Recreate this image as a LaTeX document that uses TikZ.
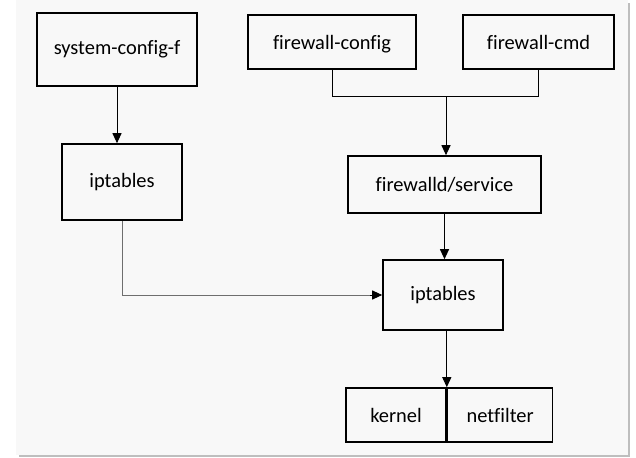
\documentclass[tikz,border=0pt]{standalone}
\usepackage{fontspec}
\setmainfont{Carlito}[Ligatures=NoCommon]
\usepackage{tikz}
\usetikzlibrary{arrows.meta, positioning, calc}
\definecolor{panelgray}{RGB}{248, 248, 248}
\definecolor{shadowgray}{RGB}{190, 190, 190}
\definecolor{linkgray}{RGB}{110, 110, 110}

\begin{document}
\begin{tikzpicture}[
    x=1bp, y=1bp,
    every node/.style={font=\fontsize{20.5}{24}\selectfont},
    box/.style={rectangle, draw, line width=1.6bp, align=center, inner sep=0pt},
    lowtext/.style={text depth=-8bp},
    arrow/.style={-{Triangle[length=10bp, width=9bp]}, line width=1bp},
    link/.style={line width=1bp, draw=linkgray}
]
\useasboundingbox (0,0) rectangle (636,-458);

% Background panel
\fill[white] (0,0) rectangle (636,-458);
\fill[shadowgray] (19,-452) rectangle (630,-457);
\fill[shadowgray] (625,-3) rectangle (630,-457);
\fill[panelgray] (16,0) rectangle (628,-455);

% Old tool chain
\node[box, minimum width=160bp, minimum height=73bp] (sysconf) at (117,-49.5) {system-config-f};
\node[box, minimum width=120bp, minimum height=76bp] (iptold) at (122,-182) {iptables};

% firewalld tool chain
\node[box, lowtext, minimum width=168bp, minimum height=54bp] (fwconfig) at (332,-42) {firewall-config};
\node[box, lowtext, minimum width=151bp, minimum height=54bp] (fwcmd) at (538.5,-42) {firewall-cmd};
\node[box, lowtext, minimum width=193bp, minimum height=57bp] (fwservice) at (444.5,-184.5) {firewalld/service};
\node[box, minimum width=120bp, minimum height=70bp] (iptnew) at (443,-295) {iptables};

% Kernel part
\node[box, minimum width=100bp, minimum height=54bp, text depth=-12bp] (kernel) at (396,-415) {kernel};
\node[box, minimum width=105bp, minimum height=54bp, text depth=-12bp, right=0pt of kernel] (netfilter) {netfilter};

\coordinate (join) at (446,-97);

% Arrows
\draw[arrow] (sysconf.south) -- (sysconf.south |- iptold.north);
\draw[line width=1bp] (fwconfig.south) |- (fwcmd.south |- join) -- (fwcmd.south);
\draw[arrow] (join) -- (join |- fwservice.north);
\draw[arrow] (fwservice.south) -- (fwservice.south |- iptnew.north);
\draw[link] (iptold.south) |- ($(iptnew.west)+(-12,0)$);
\draw[arrow] ($(iptnew.west)+(-12,0)$) -- (iptnew.west);
\draw[arrow] (kernel.north east |- iptnew.south) -- (kernel.north east);

\end{tikzpicture}
\end{document}
